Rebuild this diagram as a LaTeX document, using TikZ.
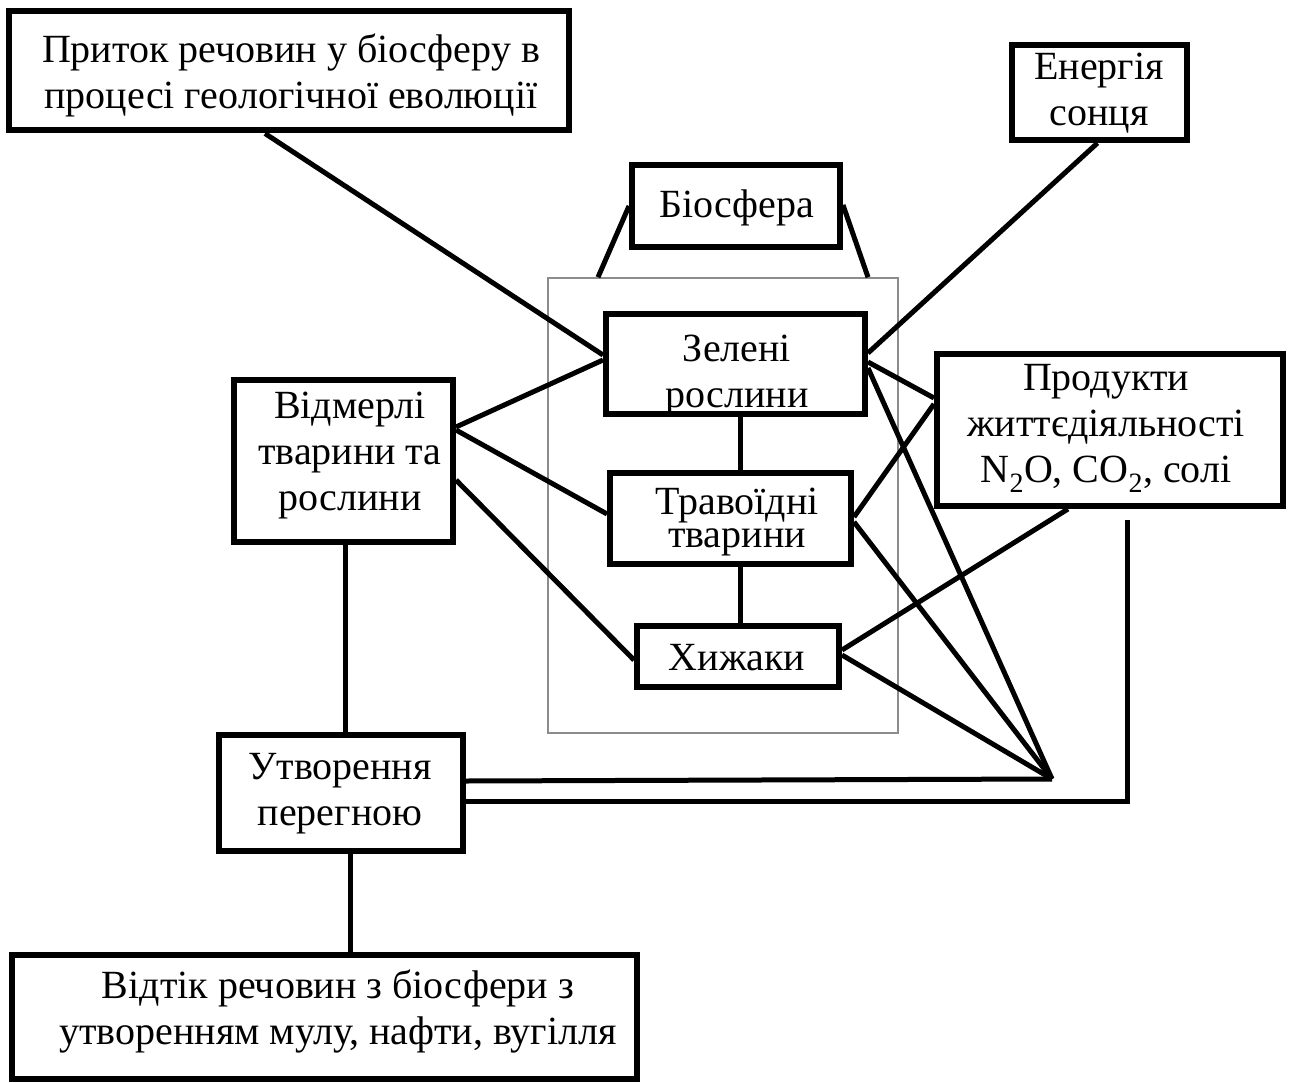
\documentclass[tikz,border=0pt]{standalone}
\usepackage{fontspec}
\setmainfont{Liberation Serif}
\usetikzlibrary{calc}
\begin{document}
\begin{tikzpicture}[x=1pt,y=-1pt,
  box/.style={draw=black,line width=6pt,rectangle,inner sep=0pt},
  txt/.style={align=center,inner sep=0pt,font=\fontsize{40}{46}\selectfont},
  link/.style={line width=5pt,black},
  frame/.style={draw=black!45,line width=1.5pt,rectangle,inner sep=0pt}]
\useasboundingbox (0,0) rectangle (1289,1083);
\fill[white] (0,0) rectangle (1289,1083);

% frame of the biosphere and its caption box
\node[frame,minimum width=350pt,minimum height=455pt] (grey) at (723,505.5) {};
\node[box,minimum width=208pt,minimum height=82pt] (bio) at (736,206) {};
\node[txt] (bio-t) at (737,208) {Біосфера};

% outer boxes
\node[box,minimum width=560pt,minimum height=119pt] (pr) at (289,71) {};
\node[txt] (pr-t) at (291,75) {Приток речовин у біосферу в\\процесі геологічної еволюції};
\node[box,minimum width=175pt,minimum height=95pt] (en) at (1099.5,92.5) {};
\node[txt] (en-t) at (1099,93) {Енергія\\сонця};
\node[box,minimum width=219pt,minimum height=162pt] (vidm) at (343.5,461) {};
\node[txt] (vidm-t) at (350,456) {Відмерлі\\тварини та\\рослини};
\node[box,minimum width=346pt,minimum height=152pt] (prod) at (1110,430) {};
\node[txt] (prod-t) at (1106,428) {Продукти\\життєдіяльності\\N\textsubscript{2}O, CO\textsubscript{2}, солі};
\node[box,minimum width=244pt,minimum height=116pt] (utv) at (341,793) {};
\node[txt] (utv-t) at (340,794) {Утворення\\перегною};
\node[box,minimum width=625pt,minimum height=124pt] (vidt) at (324,1017) {};
\node[txt] (vidt-t) at (338,1011) {Відтік речовин з біосфери з\\утворенням мулу, нафти, вугілля};

% living components inside the frame
\node[box,minimum width=259pt,minimum height=100pt] (zel) at (735.5,364) {};
\node[txt] (zel-t) at (737,376) {Зелені\\рослини};
\node[box,minimum width=241pt,minimum height=91pt] (trav) at (730.5,518.5) {};
\node[txt,font=\fontsize{40}{33}\selectfont] (trav-t) at (737,522) {Травоїдні\\тварини};
\node[box,minimum width=202pt,minimum height=61pt] (hyzh) at (738,656.5) {};
\node[txt] (hyzh-t) at (737,658) {Хижаки};

% meeting point of the flows
\coordinate (A) at (1052,779);

% connectors
\draw[link] ([xshift=-24pt]pr.south) -- ([yshift=9pt]zel.west);
\draw[link] ([xshift=-2pt]en.south) -- ([yshift=11pt]zel.east);
\draw[link] (bio.west) -- ([xshift=-125pt]grey.north);
\draw[link] ([yshift=1pt]bio.east) -- ([xshift=145pt]grey.north);
\draw[link] ([yshift=34pt]vidm.east) -- ([yshift=4pt]zel.west);
\draw[link] ([yshift=31pt]vidm.east) -- ([yshift=4.5pt]trav.west);
\draw[link] ([yshift=-19pt]vidm.east) -- ([yshift=-3.5pt]hyzh.west);
\draw[link] ([xshift=4.5pt]zel.south) -- ([xshift=4.5pt]zel.south |- trav.north);
\draw[link] ([xshift=2pt]hyzh.north) -- ([xshift=2pt]hyzh.north |- trav.south);
\draw[link] ([yshift=2pt]zel.east) -- ([yshift=32pt]prod.west);
\draw[link] ([yshift=1.5pt]trav.east) -- ([yshift=26pt]prod.west);
\draw[link] ([yshift=6.5pt]hyzh.east) -- ([xshift=-42pt]prod.south);
\draw[link] ([yshift=-4pt]zel.east) -- (A);
\draw[link] ([yshift=-3.5pt]trav.east) -- (A);
\draw[link] ([yshift=1.5pt]hyzh.east) -- (A);
\draw[link] ([yshift=12pt]utv.east) -- (A);
\draw[link] ([xshift=17pt,yshift=-11pt]prod.south) |- ([yshift=-8pt]utv.east);
\draw[link] ([xshift=1.5pt]vidm.south) -- ([xshift=1.5pt]vidm.south |- utv.north);
\draw[link] ([xshift=9pt]utv.south) -- ([xshift=9pt]utv.south |- vidt.north);
\end{tikzpicture}
\end{document}
